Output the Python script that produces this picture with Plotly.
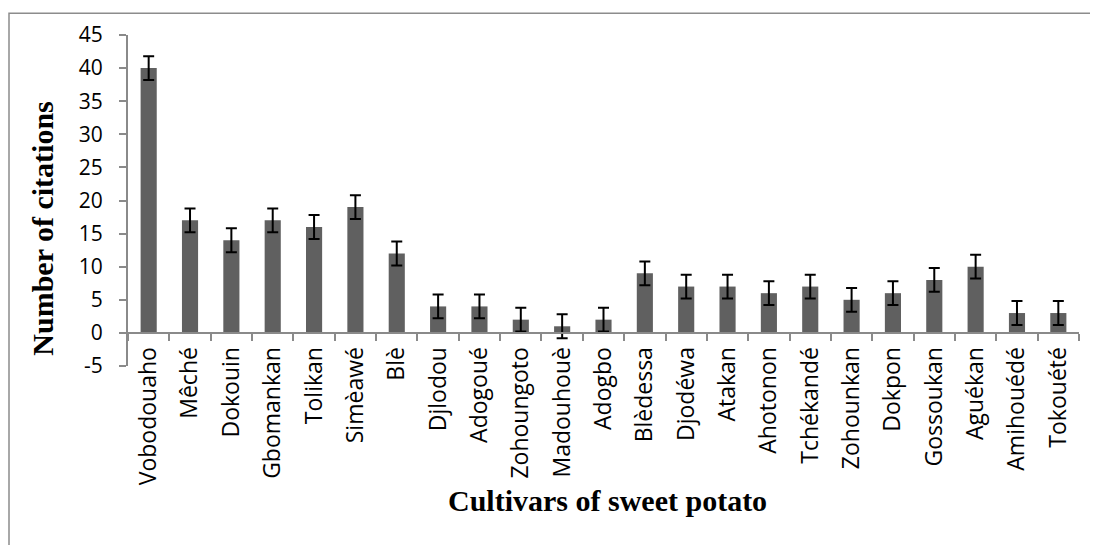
import plotly.graph_objects as go

cultivars = ["Vobodouaho", "Mêché", "Dokouin", "Gbomankan", "Tolikan", "Simèawé", "Blè",
             "Djlodou", "Adogoué", "Zohoungoto", "Madouhouè", "Adogbo", "Blèdessa", "Djodéwa",
             "Atakan", "Ahotonon", "Tchékandé", "Zohounkan", "Dokpon", "Gossoukan", "Aguékan",
             "Amihouédé", "Tokouété"]
citations = [40, 17, 14, 17, 16, 19, 12, 4, 4, 2, 1, 2, 9, 7, 7, 6, 7, 5, 6, 8, 10, 3, 3]
errors = [1.8] * len(citations)
y_ticks = [-5, 0, 5, 10, 15, 20, 25, 30, 35, 40, 45]

OFF = 8  # page body margin
W, H = 1098 - OFF, 545 - OFF
L = 128 - OFF
T = 31 - OFF
pw = 1079 - 128
ph = 366 - 31
R = W - L - pw
B = H - T - ph


def px_x(p):
    return (p - OFF - L) / pw


def px_y(p):
    return (H - B - (p - OFF)) / ph


fig = go.Figure()
fig.add_trace(go.Bar(
    x=cultivars, y=citations,
    marker=dict(color="#606060", line=dict(width=0)),
    error_y=dict(type="data", array=errors, visible=True, color="black",
                 thickness=2, width=5.5),
))

axis_col = "#8a8a8a"
fam = "Open Sans, Lato, sans-serif"

fig.update_layout(
    width=W, height=H, autosize=False,
    margin=dict(l=L, r=R, t=T, b=B),
    paper_bgcolor="white", plot_bgcolor="white",
    showlegend=False,
    bargap=0.61,
    xaxis=dict(
        type="category", anchor="free", position=5 / 50,
        showline=True, linecolor=axis_col, linewidth=2,
        ticks="outside", tickson="boundaries", ticklen=7, tickcolor=axis_col, tickwidth=2,
        tickangle=-90, tickfont=dict(family=fam, size=23, color="black"),
        showgrid=False, zeroline=False, ticklabelstandoff=4,
    ),
    yaxis=dict(
        range=[-5, 45], tickvals=y_ticks, ticktext=[str(v) for v in y_ticks],
        showline=True, linecolor=axis_col, linewidth=2,
        ticks="outside", ticklen=7, tickcolor=axis_col, tickwidth=2,
        tickfont=dict(family=fam, size=21, color="black"),
        showgrid=False, zeroline=False, ticklabelstandoff=12,
    ),
    annotations=[
        dict(text="<b>Number of citations</b>", xref="paper", yref="paper",
             x=px_x(43), y=px_y(227), textangle=-90, showarrow=False,
             font=dict(family="Liberation Serif, Times New Roman, serif", size=30, color="black"),
             xanchor="center", yanchor="middle"),
        dict(text="<b>Cultivars of sweet potato</b>", xref="paper", yref="paper",
             x=px_x(607), y=px_y(502), showarrow=False,
             font=dict(family="Liberation Serif, Times New Roman, serif", size=30, color="black"),
             xanchor="center", yanchor="middle"),
    ],
    shapes=[
        dict(type="path", xref="paper", yref="paper",
             path=f"M {px_x(9)},{px_y(560)} L {px_x(9)},{px_y(9)} L {px_x(1110)},{px_y(9)}",
             line=dict(color="#8c8c8c", width=1.5)),
    ],
)

fig.write_html("out.html")
